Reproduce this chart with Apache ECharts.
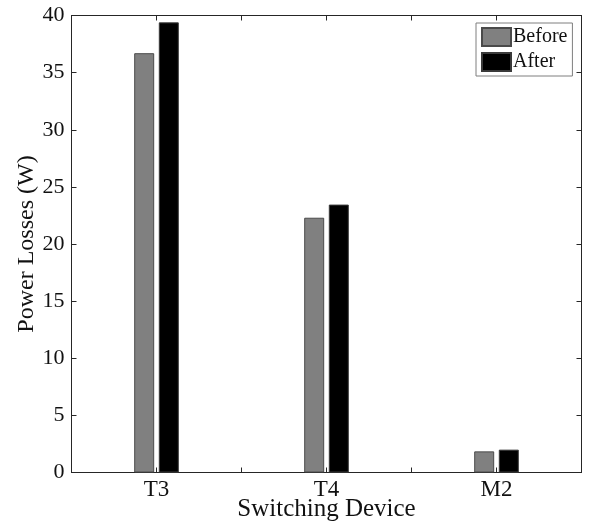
<!DOCTYPE html>
<html>
<head>
<meta charset="utf-8">
<script src="https://cdn.jsdelivr.net/npm/echarts@6/dist/echarts.min.js"></script>
<style>
  html, body { margin: 0; padding: 0; background: #fff; }
</style>
</head>
<body>
<main id="losses" style="width: 589px; height: 524px"></main>
<script>
const devices = ['T3', 'T4', 'M2']
const beforeLosses = [36.7, 22.3, 1.85]
const afterLosses = [39.4, 23.45, 2.0]
const yTicks = { min: 0, max: 40, interval: 5 }

const font = 'Liberation Serif'
const axisColor = '#262626'

// bottom/top category axes: one for boundary ticks, one for centre ticks
const catAxis = (position, centre, showLabel) => ({
  type: 'category',
  position: position,
  data: devices,
  axisLine: { show: true, lineStyle: { color: axisColor, width: 1 } },
  axisTick: { show: true, inside: true, length: 5, alignWithLabel: centre, lineStyle: { color: axisColor } },
  axisLabel: { show: showLabel, color: '#111', fontFamily: font, fontSize: 23, margin: 6 },
  splitLine: { show: false },
})

const valAxis = (position, showLabel) => ({
  type: 'value',
  position: position,
  min: yTicks.min,
  max: yTicks.max,
  interval: yTicks.interval,
  axisLine: { show: true, lineStyle: { color: axisColor, width: 1 } },
  axisTick: { show: true, inside: true, length: 5, lineStyle: { color: axisColor } },
  axisLabel: { show: showLabel, color: '#111', fontFamily: font, fontSize: 22, margin: 7 },
  splitLine: { show: false },
})

const bottomAxis = catAxis('bottom', false, true)
bottomAxis.name = 'Switching Device'
bottomAxis.nameLocation = 'middle'
bottomAxis.nameGap = 24
bottomAxis.nameMoveOverlap = false
bottomAxis.nameTextStyle = { color: '#111', fontFamily: font, fontSize: 25, verticalAlign: 'top' }

const leftAxis = valAxis('left', true)
leftAxis.name = 'Power Losses (W)'
leftAxis.nameLocation = 'middle'
leftAxis.nameGap = 33
leftAxis.nameMoveOverlap = false
leftAxis.nameTextStyle = { color: '#111', fontFamily: font, fontSize: 24 }

const option = {
  animation: false,
  backgroundColor: '#fff',
  grid: { left: 71.5, right: 7.5, top: 15.5, bottom: 51.5, containLabel: false, outerBoundsMode: 'none' },
  legend: {
    orient: 'vertical',
    left: 476,
    top: 23,
    icon: 'rect',
    itemWidth: 29,
    itemHeight: 18,
    itemGap: 5,
    padding: [4, 5, 4, 5],
    borderColor: '#7f7f7f',
    borderWidth: 1,
    backgroundColor: '#fff',
    textStyle: { color: '#111', fontFamily: font, fontSize: 20, padding: [0, 0, 0, -3] },
    data: ['Before', 'After'],
  },
  xAxis: [
    bottomAxis,
    catAxis('bottom', true, false),
    catAxis('top', false, false),
    catAxis('top', true, false),
  ],
  yAxis: [leftAxis, valAxis('right', false)],
  series: [
    {
      name: 'Before',
      type: 'bar',
      barWidth: 20,
      barGap: '23%',
      itemStyle: { color: '#808080', borderColor: '#4a4a4a', borderWidth: 1 },
      data: beforeLosses,
    },
    {
      name: 'After',
      type: 'bar',
      barWidth: 20,
      barGap: '23%',
      itemStyle: { color: '#000000', borderColor: '#3a3a3a', borderWidth: 1 },
      data: afterLosses,
    },
  ],
}

const myChart = echarts.init(document.getElementById('losses'))
myChart.setOption(option)
</script>
</body>
</html>
